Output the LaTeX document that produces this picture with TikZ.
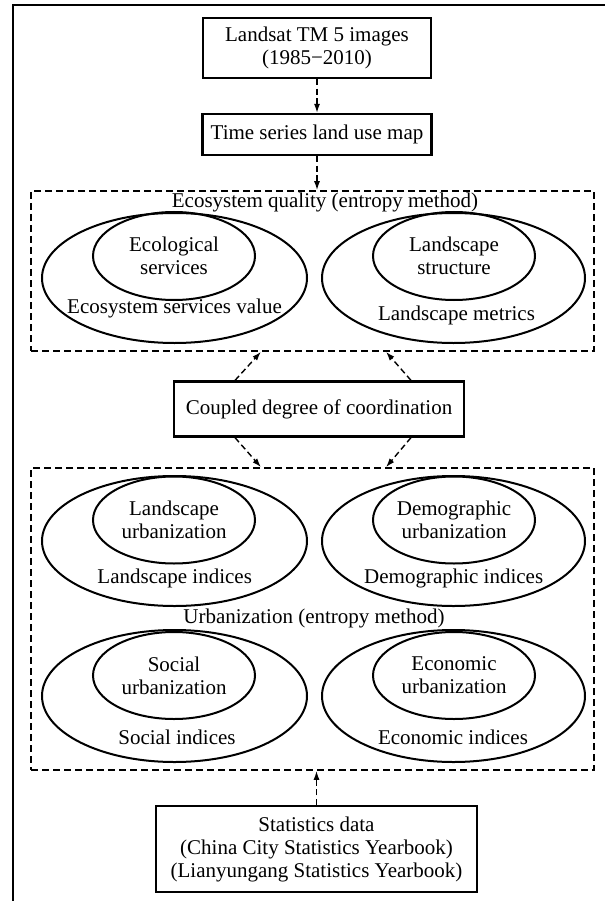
\documentclass[tikz,border=0pt]{standalone}
\usepackage{fontspec}
\setmainfont{Liberation Serif}
\usetikzlibrary{positioning,shapes.geometric,arrows.meta}

\begin{document}
\begin{tikzpicture}[x=1pt,y=-1pt,>={Latex[length=9pt,width=6pt]},font=\fontsize{21}{23}\selectfont,
	square/.style={draw,line width=2.2pt,align=center,inner sep=0pt},
	frame/.style={draw,dash pattern=on 7pt off 4pt,line width=1.6pt,minimum width=563pt,inner sep=0pt},
	oval/.style={draw,ellipse,line width=2pt,inner sep=0pt,align=center},
	outer/.style={oval,minimum width=265pt,minimum height=130pt},
	inner/.style={oval,minimum width=162pt,minimum height=88pt},
	flow/.style={->,dash pattern=on 6pt off 3.5pt,line width=1.4pt}]

	\useasboundingbox (0,0) rectangle (605,901);
	\draw[line width=1.6pt] (13,901) -- (13,5) -- (605,5);

	\node[square,minimum width=228pt,minimum height=60pt] (landsat) at (317,48) {Landsat TM 5 images\\(1985−2010)};
	\node[square,minimum width=229pt,minimum height=41pt] (landuse) [below of=landsat, node distance=86.5pt] {Time series land use map};
	\path[flow] (landsat) edge (landuse);

	% ecosystem quality
	\node[frame,minimum height=160pt] (ecoquality) at (312.5,271) {};
	\path[flow] (landuse) edge (landuse |- ecoquality.north);
	\node (ecotitle) at (325,202) {Ecosystem quality (entropy method)};
	\node[outer] (esvout) at (174.5,278) {};
	\node[inner] (esvin) at (174,256) {Ecological\\services};
	\node (esvtext) at (174.5,308) {Ecosystem services value};
	\node[outer,minimum width=263pt] (lmout) at (453.5,278) {};
	\node[inner] (lmin) at (454,256) {Landscape\\structure};
	\node (lmtext) at (456.5,315) {Landscape metrics};

	\node[square,minimum width=290pt,minimum height=55pt] (coupled) at (319,409) {Coupled degree of coordination};
	\draw[flow] ([xshift=-84pt]coupled.north) -- ([xshift=-51.5pt]ecoquality.south);
	\draw[flow] ([xshift=92pt]coupled.north) -- ([xshift=73.5pt]ecoquality.south);

	% urbanization
	\node[frame,minimum height=302pt] (urban) at (312.5,619) {};
	\draw[flow] ([xshift=-84pt]coupled.south) -- ([xshift=-51.5pt]urban.north);
	\draw[flow] ([xshift=92pt]coupled.south) -- ([xshift=73.5pt]urban.north);
	\node (urbtitle) at (314,618) {Urbanization (entropy method)};

	\node[outer] (landout) at (174.5,541) {};
	\node[inner,minimum height=87pt] (landin) at (174,520) {Landscape\\urbanization};
	\node (landtext) at (174.7,578) {Landscape indices};
	\node[outer,minimum width=263pt] (demout) at (453.5,541) {};
	\node[inner,minimum height=87pt] (demin) at (454,520) {Demographic\\urbanization};
	\node (demtext) at (453.7,578) {Demographic indices};

	\node[outer,minimum height=132pt] (socout) at (174.5,696) {};
	\node[inner,minimum height=87pt] (socin) at (174,675.5) {Social\\urbanization};
	\node (soctext) at (177,737) {Social indices};
	\node[outer,minimum width=263pt,minimum height=132pt] (ecoout) at (453.5,696) {};
	\node[inner,minimum height=87pt] (ecoin) at (454,675.5) {Economic\\urbanization};
	\node (ecotext) at (453,737) {Economic indices};

	\node[square,minimum width=321pt,minimum height=86pt] (stats) at (316.5,849) {Statistics data\\(China City Statistics Yearbook)\\(Lianyungang Statistics Yearbook)};
	\path[flow] (stats) edge (stats |- urban.south);

\end{tikzpicture}
\end{document}
